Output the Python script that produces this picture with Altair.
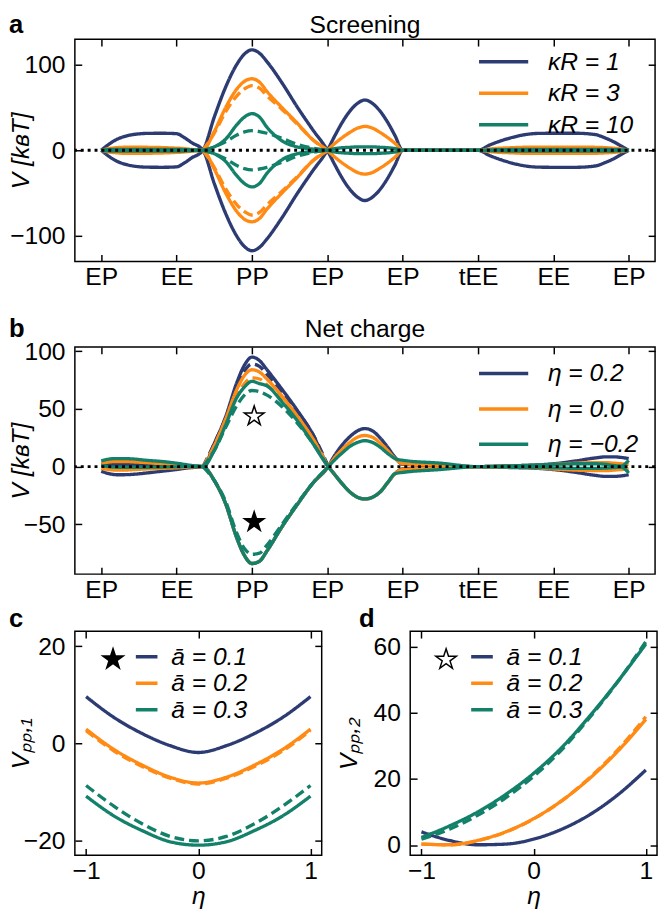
import json
import pandas as pd
import altair as alt

FONT = "Liberation Sans"
NAVY, ORANGE, GREEN = "#2c3c72", "#ff8a14", "#13806a"
COLORS = [NAVY, ORANGE, GREEN]
TICK = 7
FS = 25

# ---- panels a/b: position along the contact path (tick index 0..7)
path_ticks = ["EP", "EE", "PP", "EP", "EP", "tEE", "EE", "EP"]
xs = [0, 0.1, 0.2, 0.3, 0.45, 0.6, 0.8, 1.0, 1.1, 1.2, 1.35,
      1.5, 1.65, 1.8, 1.9, 2.0, 2.1, 2.2, 2.4, 2.6, 2.8, 3.0,
      3.1, 3.2, 3.3, 3.4, 3.5, 3.6, 3.7, 3.8, 3.9, 4.0,
      4.5, 5.0, 5.15, 5.3, 5.45, 5.6, 5.8, 6.0, 6.3, 6.55, 6.7, 6.8, 6.9, 7.0]
xs_pp = [1.35, 1.5, 1.65, 1.8, 1.9, 2.0, 2.1, 2.2, 2.4, 2.6, 2.8, 3.0]

# panel a: screening
kr_labels = ["κR = 1", "κR = 3", "κR = 10"]
a_k1_p = [0, 7, 12.5, 16, 18.8, 19.8, 20, 19.5, 15, 9, 0,
          -39, -74, -101, -113, -118, -114, -104, -79, -51, -25, 0,
          17, 33, 46, 55, 59, 55, 46, 33, 17, 0,
          0, 0, 6, 11, 15, 18, 19.8, 20, 20, 18.5, 14, 10, 5, 0]
a_k1_q = [0, -7, -12.5, -16, -18.8, -19.8, -20, -19.5, -15, -9, 0,
          39, 74, 101, 113, 118, 114, 104, 79, 51, 25, 0,
          -17, -33, -46, -55, -59, -55, -46, -33, -17, 0,
          0, 0, -6, -11, -15, -18, -19.8, -20, -20, -18.5, -14, -10, -5, 0]
a_k3_p = [0, 2, 3, 3.5, 3.5, 3.5, 3.2, 2.5, 2, 1, 0,
          -22, -50, -72, -81, -84, -80, -69, -50, -32, -13, 0,
          8, 15, 21, 26, 28, 26, 21, 15, 8, 0,
          0, 0, 1.5, 2.5, 3, 3.5, 3.5, 3.5, 3.5, 3.5, 3, 2.5, 1.5, 0]
a_k3_q = [0, -2, -3, -3.5, -3.5, -3.5, -3.2, -2.5, -2, -1, 0,
          22, 50, 72, 81, 84, 80, 69, 50, 32, 13, 0,
          -8, -15, -21, -26, -28, -26, -21, -15, -8, 0,
          0, 0, -1.5, -2.5, -3, -3.5, -3.5, -3.5, -3.5, -3.5, -3, -2.5, -1.5, 0]
a_k10_p = [0, 0.8, 1, 1, 1, 1, 1, 1, 0.8, 0.5, 0,
           -4, -13, -30, -39, -43, -39, -27, -11, -4, -1.5, 0,
           2, 3, 3.5, 4, 4, 4, 3.5, 3, 2, 0,
           0, 0, 0.4, 0.7, 0.9, 1, 1, 1, 1, 1, 1, 0.8, 0.5, 0]
a_k10_q = [0, -0.8, -1, -1, -1, -1, -1, -1, -0.8, -0.5, 0,
           4, 13, 30, 39, 43, 39, 27, 11, 4, 1.5, 0,
           -2, -3, -3.5, -4, -4, -4, -3.5, -3, -2, 0,
           0, 0, -0.4, -0.7, -0.9, -1, -1, -1, -1, -1, -1, -0.8, -0.5, 0]
a_k3_p_dash = [0, -20, -45, -64, -72, -76, -73, -64, -48, -31, -13, 0]
a_k3_q_dash = [0, 20, 45, 64, 72, 76, 73, 64, 48, 31, 13, 0]
a_k10_p_dash = [0, -4, -10, -18, -21.5, -23, -22, -20, -14, -7, -2.6, 0]
a_k10_q_dash = [0, 4, 10, 18, 21.5, 23, 22, 20, 14, 7, 2.6, 0]

# panel b: net charge
eta_labels = ["η = 0.2", "η = 0.0", "η = −0.2"]
b_e02_p = [1.5, 2, 2, 2, 2, 1.8, 1.5, 1, 0.7, 0.4, 0,
           -12, -32, -62, -77, -84, -82, -73, -52, -33, -15, -1,
           10, 19, 26, 31, 33, 31, 25, 17, 8, 2,
           1, 0, 0.2, 0.5, 0.8, 1, 1.5, 2.5, 5, 7.5, 8.5, 8.5, 8, 7]
b_e02_q = [-4, -6, -7, -7, -6.5, -5.5, -4, -2.5, -1.5, -0.8, 0,
           20, 43, 73, 88, 95, 92, 84, 67, 49, 29, 2,
           -7, -15, -22, -26.5, -28, -26.5, -22, -14, -6, -2,
           -1, 0, -0.2, -0.5, -0.8, -1, -1.5, -2.5, -5, -7.5, -8.5, -8.5, -8, -7]
b_e00_p = [3, 4, 4.5, 4.5, 4, 3.5, 2.5, 1.8, 1.2, 0.6, 0,
           -12, -32, -62, -77, -84, -82, -73, -52, -33, -15, -1,
           8, 15, 21, 25.5, 27, 25.5, 20.5, 14, 7, 2.5,
           1.2, 0, 0.2, 0.4, 0.6, 0.8, 1.2, 2, 3, 3.5, 3.5, 3, 2.5, 2]
b_e00_q = [-1.5, -2.5, -3, -3, -2.5, -2, -1.5, -1, -0.6, -0.3, 0,
           18, 41, 67, 79, 84, 82, 76, 61, 44, 25, 1.5,
           -7, -15, -22, -26.5, -28, -26.5, -22, -14, -6, -2.5,
           -1.2, 0, -0.2, -0.4, -0.6, -0.8, -1.2, -2, -3, -3.5, -3.5, -3, -2.5, -2]
b_em02_p = [5, 6.5, 7, 7, 6.5, 5.5, 4.5, 3, 2, 1, 0,
            -12, -32, -62, -77, -84, -82, -73, -52, -33, -15, -1,
            6, 12, 17.5, 21, 22.5, 21, 17, 11.5, 7, 5.5,
            3, 0, 0.2, 0.5, 0.7, 1, 1.5, 2, 2.5, 2.5, 2, 1, 0.5, 5.5]
b_em02_q = [1, 0, -0.5, -0.5, -0.5, -0.5, -0.3, -0.2, 0, 0, 0,
            14, 36, 60, 69, 74, 72, 70, 56, 40, 21, 1,
            -7, -15, -22, -26.5, -28, -26.5, -22, -14, -6, -5,
            -2.5, 0, -0.2, -0.3, -0.5, -0.6, -0.8, -1, -1.5, -1.5, -1.2, -0.8, -0.5, -5.5]
b_e02_q_dash = [0, 20, 42, 70, 83, 89, 87, 80, 65, 48, 29, 2]
b_e00_q_dash = [0, 18, 40, 62, 72, 77, 76, 71, 58, 43, 25, 1.5]
b_em02_q_dash = [0, 14, 34, 53, 62, 66, 65, 62, 52, 38, 21, 1]
b_em02_p_dash = [0, -12, -30, -58, -71, -76, -75, -68, -50, -32, -15, -1]
b_star_open = ([2.03], [43.7])
b_star_full = ([2.03], [-48])

# ---- panels c/d: against eta
abar_labels = ["ā = 0.1", "ā = 0.2", "ā = 0.3"]
eta = [-1, -0.75, -0.5, -0.25, 0, 0.25, 0.5, 0.75, 1]
c_a01 = [9.6, 5.3, 2.0, -0.5, -1.9, -0.5, 2.0, 5.3, 9.6]
c_a02 = [2.9, -1.3, -4.5, -7.0, -8.2, -7.0, -4.5, -1.3, 2.9]
c_a02_dash = [2.6, -1.6, -4.8, -7.2, -8.4, -7.2, -4.8, -1.6, 2.6]
c_a03 = [-10.9, -15.0, -18.0, -20.3, -21.0, -20.3, -18.0, -15.0, -10.9]
c_a03_dash = [-8.7, -13.0, -16.6, -19.2, -20.1, -19.2, -16.6, -13.0, -8.7]
c_star = ([-0.76], [17.3])
d_a01 = [4.0, 1.4, 0.1, 0.3, 1.8, 4.8, 9.2, 15.2, 22.7]
d_a02 = [0.3, 0.1, 1.4, 4.0, 8.0, 13.4, 20.2, 28.4, 38.0]
d_a02_dash = [0.3, 0.1, 1.3, 3.9, 7.9, 13.4, 20.4, 28.8, 38.8]
d_a03 = [2.3, 5.8, 10.0, 15.3, 21.7, 29.5, 39.0, 49.5, 60.8]
d_a03_dash = [1.8, 4.8, 9.0, 14.3, 20.8, 28.8, 38.6, 49.4, 61.5]
d_star = ([-0.78], [56.1])

zero_level = [0]
panel_letters = ["a", "b", "c", "d"]
panel_titles = ["Screening", "Net charge"]

STAR = ("M0,-1L0.225,-0.309L0.951,-0.309L0.363,0.118L0.588,0.809L0,0.382"
        "L-0.588,0.809L-0.363,0.118L-0.951,-0.309L-0.225,-0.309Z")


def long_frame(curves):
    recs = []
    for label, key, style, xv, yv in curves:
        for a, b in zip(xv, yv):
            recs.append({"x": a, "v": b, "series": label, "key": key, "style": style})
    return pd.DataFrame(recs)


df_a = long_frame([
    (kr_labels[0], "p", "solid", xs, a_k1_p), (kr_labels[0], "q", "solid", xs, a_k1_q),
    (kr_labels[1], "p", "solid", xs, a_k3_p), (kr_labels[1], "q", "solid", xs, a_k3_q),
    (kr_labels[1], "pd", "dashed", xs_pp, a_k3_p_dash), (kr_labels[1], "qd", "dashed", xs_pp, a_k3_q_dash),
    (kr_labels[2], "p", "solid", xs, a_k10_p), (kr_labels[2], "q", "solid", xs, a_k10_q),
    (kr_labels[2], "pd", "dashed", xs_pp, a_k10_p_dash), (kr_labels[2], "qd", "dashed", xs_pp, a_k10_q_dash),
])
df_b = long_frame([
    (eta_labels[0], "p", "solid", xs, b_e02_p), (eta_labels[0], "q", "solid", xs, b_e02_q),
    (eta_labels[0], "qd", "dashed", xs_pp, b_e02_q_dash),
    (eta_labels[1], "p", "solid", xs, b_e00_p), (eta_labels[1], "q", "solid", xs, b_e00_q),
    (eta_labels[1], "qd", "dashed", xs_pp, b_e00_q_dash),
    (eta_labels[2], "p", "solid", xs, b_em02_p), (eta_labels[2], "q", "solid", xs, b_em02_q),
    (eta_labels[2], "qd", "dashed", xs_pp, b_em02_q_dash), (eta_labels[2], "pd", "dashed", xs_pp, b_em02_p_dash),
])
df_c = long_frame([
    (abar_labels[0], "s", "solid", eta, c_a01),
    (abar_labels[1], "s", "solid", eta, c_a02), (abar_labels[1], "d", "dashed", eta, c_a02_dash),
    (abar_labels[2], "s", "solid", eta, c_a03), (abar_labels[2], "d", "dashed", eta, c_a03_dash),
])
df_d = long_frame([
    (abar_labels[0], "s", "solid", eta, d_a01),
    (abar_labels[1], "s", "solid", eta, d_a02), (abar_labels[1], "d", "dashed", eta, d_a02_dash),
    (abar_labels[2], "s", "solid", eta, d_a03), (abar_labels[2], "d", "dashed", eta, d_a03_dash),
])

dash_scale = alt.Scale(domain=["solid", "dashed"], range=[[1, 0], [10, 5]])


def axis_bottom(values, title=None, label_expr=None):
    kw = dict(orient="bottom", values=values, offset=-TICK, tickSize=TICK, domain=False,
              grid=False, labelPadding=4, title=title, titlePadding=0, titleFontStyle="italic")
    if label_expr:
        kw["labelExpr"] = label_expr
    return alt.Axis(**kw)


def axis_left(values, title, title_x, height):
    return alt.Axis(orient="left", values=values, offset=-TICK, tickSize=TICK, domain=False,
                    grid=False, labelPadding=10, title=title, titleX=title_x, titleY=height / 2,
                    titleAngle=270, titleAlign="center", titleBaseline="middle",
                    titleFontStyle="italic")


def mirror_axes(df, xscale, yscale, xvals, yvals):
    top = alt.Axis(orient="top", values=xvals, offset=-TICK, tickSize=TICK, domain=False,
                   grid=False, labels=False, title=None)
    right = alt.Axis(orient="right", values=yvals, offset=-TICK, tickSize=TICK, domain=False,
                     grid=False, labels=False, title=None)
    return alt.Chart(df).mark_point(opacity=0).encode(
        x=alt.X("x:Q", scale=xscale, axis=top), y=alt.Y("v:Q", scale=yscale, axis=right))


def caption(text, x, y, align, bold):
    return alt.Chart(pd.DataFrame({"t": [text]})).mark_text(
        align=align, baseline="alphabetic", fontSize=26 if bold else FS,
        fontWeight="bold" if bold else "normal", font=FONT, color="black").encode(
        text="t:N", x=alt.value(x), y=alt.value(y))


def panel(df, labels, xscale, yscale, xaxis, yaxis, xvals, yvals, legend, extras,
          width, height, letter, letter_xy, title=None):
    layers = []
    for i, lab in enumerate(labels):
        layers.append(alt.Chart(df[df["series"] == lab]).mark_line(
            strokeWidth=3.4, interpolate="monotone").encode(
            x=alt.X("x:Q", scale=xscale, axis=xaxis if i == 0 else None),
            y=alt.Y("v:Q", scale=yscale, axis=yaxis if i == 0 else None),
            color=alt.Color("series:N", scale=alt.Scale(domain=labels, range=COLORS), legend=legend),
            strokeDash=alt.StrokeDash("style:N", scale=dash_scale, legend=None),
            detail="key:N",
        ))
    layers += extras(xscale, yscale)
    layers.append(mirror_axes(df, xscale, yscale, xvals, yvals))
    layers.append(caption(letter, letter_xy[0], letter_xy[1], "left", True))
    if title:
        layers.append(caption(title, width / 2, letter_xy[1], "center", False))
    return alt.layer(*layers).resolve_axis(x="independent", y="independent").properties(
        width=width, height=height)


def zero_rule(xscale, yscale):
    return [alt.Chart(pd.DataFrame({"v": zero_level})).mark_rule(
        color="black", strokeWidth=3, strokeDash=[3, 4]).encode(
        y=alt.Y("v:Q", scale=yscale, axis=None))]


def star(pos, xscale, yscale, fill, size):
    return alt.Chart(pd.DataFrame({"x": pos[0], "v": pos[1]})).mark_point(
        shape=STAR, size=size, filled=True, fill=fill, stroke="black", strokeWidth=1.5,
        opacity=1).encode(x=alt.X("x:Q", scale=xscale, axis=None),
                          y=alt.Y("v:Q", scale=yscale, axis=None))


def legend(x, y, length, row_pad, offset):
    return alt.Legend(title=None, orient="none", legendX=x, legendY=y, symbolType="stroke",
                      symbolSize=length * length, symbolStrokeWidth=3.5, rowPadding=row_pad,
                      clipHeight=24, labelOffset=offset, labelFontStyle="italic")


tick_expr = json.dumps(path_ticks) + "[round(datum.value)]"
path_vals = list(range(len(path_ticks)))
x_path = alt.Scale(domain=[-0.35, 7.35], nice=False, zero=False)
ylab = "V [kʙT]"

WA, HA, HB = 590, 226, 231
y_a = alt.Scale(domain=[-130.5, 130.5], nice=False, zero=False)
pa = panel(df_a, kr_labels, x_path, y_a,
           axis_bottom(path_vals, label_expr=tick_expr),
           axis_left([-100, 0, 100], ylab, -62, HA), path_vals, [-100, 0, 100],
           legend(409, 11, 50, 7, 18), zero_rule, WA, HA, panel_letters[0], (-67, -6),
           title=panel_titles[0])

y_b = alt.Scale(domain=[-93.2, 103.8], nice=False, zero=False)
pb = panel(df_b, eta_labels, x_path, y_b,
           axis_bottom(path_vals, label_expr=tick_expr),
           axis_left([-50, 0, 50, 100], ylab, -62, HB), path_vals, [-50, 0, 50, 100],
           legend(409, 15, 50, 11, 18),
           lambda xs_, ys_: zero_rule(xs_, ys_) + [star(b_star_open, xs_, ys_, "white", 440),
                                                   star(b_star_full, xs_, ys_, "black", 440)],
           WA, HB, panel_letters[1], (-67, -10), title=panel_titles[1])

WC, HC = 251, 228
x_eta = alt.Scale(domain=[-1.1, 1.1], nice=False, zero=False)
y_c = alt.Scale(domain=[-23.1, 23.1], nice=False, zero=False)
pc = panel(df_c, abar_labels, x_eta, y_c,
           axis_bottom([-1, 0, 1], title="η"),
           axis_left([-20, 0, 20], "Vₚₚ,₁", -62, HC), [-1, 0, 1], [-20, 0, 20],
           legend(60, 14, 22, 2, 12),
           lambda xs_, ys_: [star(c_star, xs_, ys_, "black", 480)],
           WC, HC, panel_letters[2], (-67, -4))

y_d = alt.Scale(domain=[-3.1, 64.7], nice=False, zero=False)
pd_ = panel(df_d, abar_labels, x_eta, y_d,
            axis_bottom([-1, 0, 1], title="η"),
            axis_left([0, 20, 40, 60], "Vₚₚ,₂", -70, HC), [-1, 0, 1], [0, 20, 40, 60],
            legend(60, 14, 22, 2, 12),
            lambda xs_, ys_: [star(d_star, xs_, ys_, "white", 480)],
            WC, HC, panel_letters[3], (-52, -4))

top = alt.vconcat(pa, pb, spacing=25).resolve_scale(color="independent")
bottom = alt.hconcat(pc, pd_, spacing=12).resolve_scale(color="independent")
chart = alt.vconcat(top, bottom, spacing=2).resolve_scale(color="independent").properties(
    padding={"left": 0, "right": 0, "top": -4, "bottom": 0}
).configure_view(stroke="black", strokeWidth=1.5).configure_axis(
    labelFont=FONT, labelFontSize=FS, labelColor="black", titleFont=FONT, titleFontSize=FS,
    titleFontWeight="normal", titleColor="black", tickColor="black", tickWidth=1.5
).configure_legend(labelFont=FONT, labelFontSize=FS, labelColor="black")

chart.save("out.html", embed_options={"renderer": "svg", "actions": False})
